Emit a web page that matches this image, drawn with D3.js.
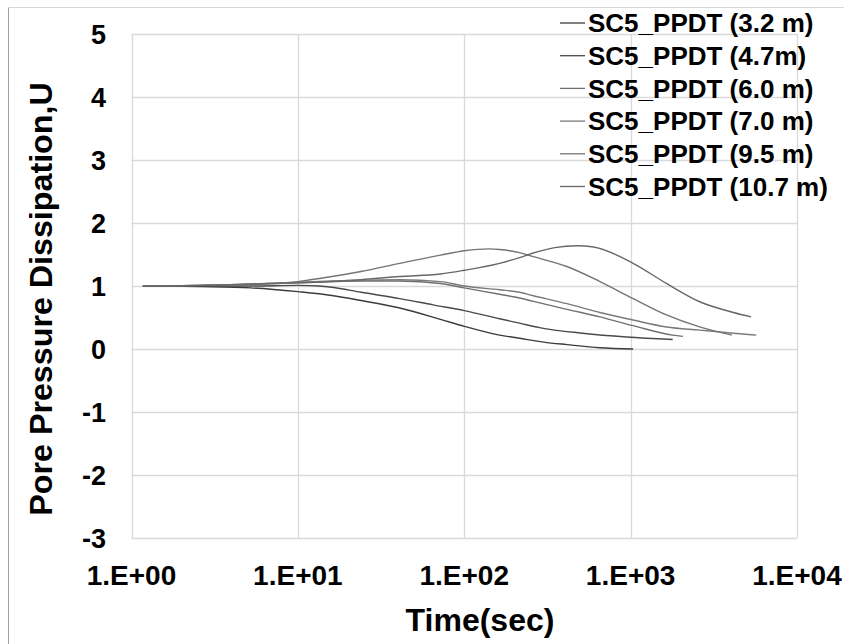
<!DOCTYPE html>
<html><head><meta charset="utf-8">
<script src="https://cdn.jsdelivr.net/npm/d3@7/dist/d3.min.js"></script>
<style>
html,body{margin:0;padding:0;background:#fff;}
svg{display:block;font-family:"Liberation Sans",Arial,sans-serif;font-weight:bold;}
</style></head>
<body><svg id="c" width="844" height="644"></svg>
<script>
// ---- data ----
const seriesNames = ["SC5_PPDT (3.2 m)","SC5_PPDT (4.7m)","SC5_PPDT (6.0 m)","SC5_PPDT (7.0 m)","SC5_PPDT (9.5 m)","SC5_PPDT (10.7 m)"];
const t32  = [1.17,2.6,5.2,10,16,24,41,72,100,163,215,300,414,654,1035];
const u32  = [1.0,0.99,0.97,0.91,0.85,0.77,0.65,0.47,0.36,0.22,0.17,0.11,0.07,0.02,0.0];
const t47  = [1.17,2.6,5.2,10,13.5,16,24,41,65,100,163,215,283,515,945,1790];
const u47  = [1.0,1.0,1.0,1.01,1.0,0.98,0.9,0.8,0.7,0.61,0.48,0.41,0.34,0.25,0.19,0.15];
const t60  = [1.17,2.6,5.2,10,16,24,41,72,100,163,215,257,414,654,1035,1790,2060];
const u60  = [1.0,1.01,1.03,1.05,1.07,1.08,1.08,1.04,0.97,0.87,0.81,0.76,0.63,0.51,0.37,0.22,0.20];
const t70  = [1.17,2.6,5.2,10,16,24,41,72,100,163,215,257,414,654,1035,1643,2600,4150,5690];
const u70  = [1.0,1.01,1.03,1.06,1.08,1.09,1.1,1.07,1.0,0.94,0.9,0.85,0.72,0.58,0.46,0.35,0.30,0.25,0.22];
const t95  = [1.17,2.6,5.2,10,13.5,24,41,72,100,142,163,215,257,414,654,1035,1643,2600,4060];
const u95  = [1.0,1.01,1.03,1.07,1.12,1.23,1.36,1.49,1.56,1.59,1.58,1.53,1.47,1.31,1.07,0.80,0.54,0.35,0.22];
const t107 = [1.17,2.6,5.2,10,24,41,72,100,163,215,257,350,475,600,1035,1643,2600,4150,5300];
const u107 = [1.0,1.01,1.03,1.05,1.1,1.15,1.19,1.25,1.36,1.45,1.52,1.61,1.64,1.62,1.36,1.04,0.75,0.58,0.51];
const seriesT = [t32,t47,t60,t70,t95,t107];
const seriesU = [u32,u47,u60,u70,u95,u107];
const colors = ["#3c3c3c","#4a4a4a","#707070","#7a7a7a","#747474","#686868"];
const xTickValues = [1,10,100,1000,10000];
const xTickLabels = ["1.E+00","1.E+01","1.E+02","1.E+03","1.E+04"];
const yTickValues = [-3,-2,-1,0,1,2,3,4,5];

// ---- layout ----
const svg = d3.select("#c");
const L=131.5, R=797, T=34, B=538;
const x = d3.scaleLog().domain([1,1e4]).range([L,R]);
const y = d3.scaleLinear().domain([-3,5]).range([B,T]);

// outer frame
svg.append("line").attr("x1",8.5).attr("x2",844).attr("y1",7.5).attr("y2",7.5).attr("stroke","#d9d9d9");
svg.append("line").attr("x1",8.5).attr("x2",8.5).attr("y1",7.5).attr("y2",644).attr("stroke","#a0a0a0");

// gridlines
const g = svg.append("g");
g.selectAll(".hg").data(yTickValues).join("line")
  .attr("x1",L).attr("x2",R).attr("y1",d=>Math.round(y(d))+0.5).attr("y2",d=>Math.round(y(d))+0.5)
  .attr("stroke","#d9d9d9").attr("stroke-width",1.3);
g.selectAll(".vg").data(xTickValues).join("line")
  .attr("y1",T).attr("y2",B).attr("x1",d=>Math.round(x(d))+0.5).attr("x2",d=>Math.round(x(d))+0.5)
  .attr("stroke","#d9d9d9").attr("stroke-width",1.3);

// tick labels
svg.selectAll(".yl").data(yTickValues).join("text")
  .attr("x",106).attr("y",d=>y(d)).attr("dy","0.36em").attr("text-anchor","end")
  .attr("font-size",27).attr("fill","#000").text(d=>d);
svg.selectAll(".xl").data(xTickValues).join("text")
  .attr("x",d=>x(d)).attr("y",585).attr("text-anchor","middle")
  .attr("font-size",28).attr("fill","#000").text((d,i)=>xTickLabels[i]);

// axis titles
svg.append("text").attr("x",480).attr("y",631).attr("text-anchor","middle")
  .attr("font-size",32).text("Time(sec)");
svg.append("text").attr("transform","translate(52,299) rotate(-90) scale(1.04,1)").attr("text-anchor","middle")
  .attr("font-size",31).text("Pore Pressure Dissipation,U");

// series
const line = d3.line().x(d=>x(d[0])).y(d=>y(d[1])).curve(d3.curveMonotoneX);
seriesT.forEach((ts,i)=>{
  const pts = ts.map((t,j)=>[t,seriesU[i][j]]);
  svg.append("path").attr("d",line(pts)).attr("fill","none")
    .attr("stroke",colors[i]).attr("stroke-width",1.4);
});

// legend
const leg = svg.append("g");
seriesNames.forEach((n,i)=>{
  const cy = 23 + i*32.7;
  leg.append("line").attr("x1",560).attr("x2",585).attr("y1",cy).attr("y2",cy)
    .attr("stroke",colors[i]).attr("stroke-width",1.3);
  leg.append("text").attr("x",588).attr("y",cy).attr("dy","0.36em")
    .attr("font-size",26).attr("fill","#000").text(n);
});
</script></body></html>
